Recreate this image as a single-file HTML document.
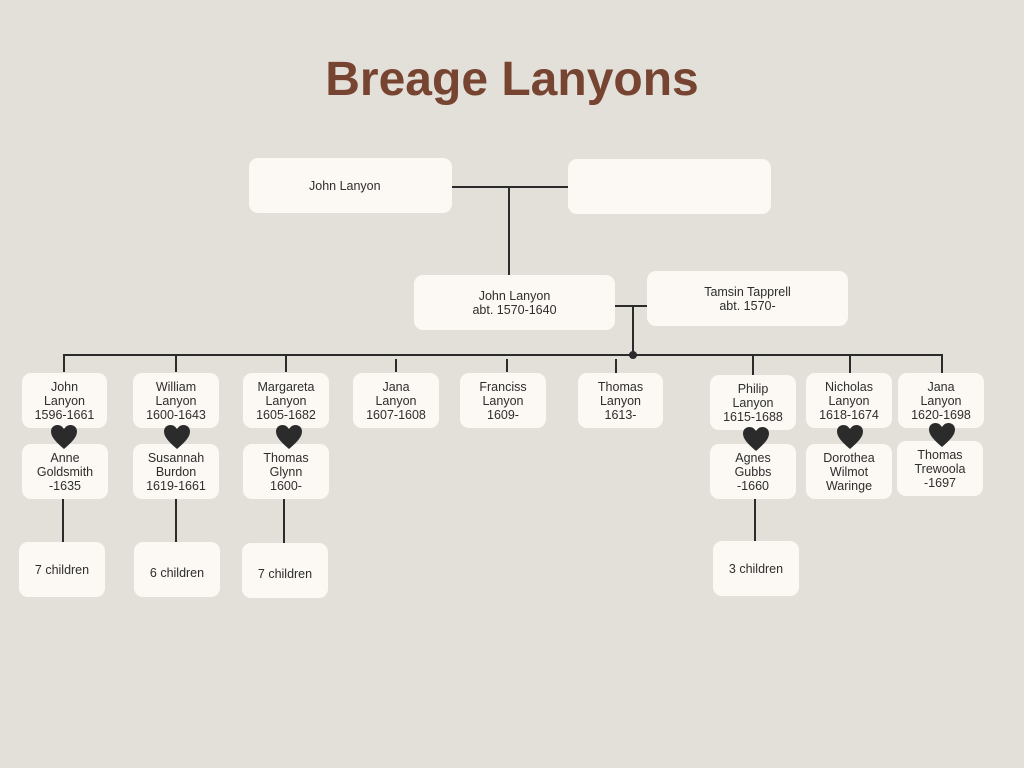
<!DOCTYPE html>
<html><head><meta charset="utf-8"><style>
body{margin:0;width:1024px;height:768px;background:#e3dfd9;position:relative;overflow:hidden;font-family:"Liberation Sans",sans-serif;}
.t{position:absolute;left:0;width:1024px;top:52px;text-align:center;color:#7a4a30;font-size:48px;font-weight:bold;letter-spacing:0px;}
.b{position:absolute;background:#fcf8f3;border-radius:9px;display:flex;align-items:center;justify-content:center;text-align:center;color:#2e2e2e;font-size:12.5px;line-height:14px;}
.l{position:absolute;background:#2b2b2b;}
.h{position:absolute;width:28px;height:26px;}
</style></head><body>
<div class="t" style="color:#764430">Breage Lanyons</div>

<div class="l" style="left:452px;top:186px;width:116px;height:2px"></div>
<div class="l" style="left:508px;top:187px;width:2px;height:88px"></div>
<div class="b" style="left:249px;top:158px;width:203px;height:55px;justify-content:flex-start;padding-left:60px;box-sizing:border-box">John Lanyon</div>
<div class="b" style="left:568px;top:159px;width:203px;height:55px"></div>

<div class="l" style="left:615px;top:305px;width:32px;height:2px"></div>
<div class="l" style="left:632px;top:306px;width:2px;height:49px"></div>
<div class="l" style="left:629px;top:351px;width:8px;height:8px;border-radius:50%"></div>
<div class="b" style="left:414px;top:275px;width:201px;height:55px">John Lanyon<br>abt. 1570-1640</div>
<div class="b" style="left:647px;top:271px;width:201px;height:55px">Tamsin Tapprell<br>abt. 1570-</div>

<div class="l" style="left:63px;top:354px;width:880px;height:2px"></div>
<div class="l" style="left:63px;top:355px;width:2px;height:17px"></div>
<div class="l" style="left:175px;top:355px;width:2px;height:17px"></div>
<div class="l" style="left:285px;top:355px;width:2px;height:17px"></div>
<div class="l" style="left:395px;top:359px;width:2px;height:13px"></div>
<div class="l" style="left:506px;top:359px;width:2px;height:13px"></div>
<div class="l" style="left:615px;top:359px;width:2px;height:14px"></div>
<div class="l" style="left:752px;top:355px;width:2px;height:20px"></div>
<div class="l" style="left:849px;top:355px;width:2px;height:18px"></div>
<div class="l" style="left:941px;top:355px;width:2px;height:18px"></div>

<div class="b" style="left:22px;top:373px;width:85px;height:55px">John<br>Lanyon<br>1596-1661</div>
<div class="b" style="left:133px;top:373px;width:86px;height:55px">William<br>Lanyon<br>1600-1643</div>
<div class="b" style="left:243px;top:373px;width:86px;height:55px">Margareta<br>Lanyon<br>1605-1682</div>
<div class="b" style="left:353px;top:373px;width:86px;height:55px">Jana<br>Lanyon<br>1607-1608</div>
<div class="b" style="left:460px;top:373px;width:86px;height:55px">Franciss<br>Lanyon<br>1609-</div>
<div class="b" style="left:578px;top:373px;width:85px;height:55px">Thomas<br>Lanyon<br>1613-</div>
<div class="b" style="left:710px;top:375px;width:86px;height:55px">Philip<br>Lanyon<br>1615-1688</div>
<div class="b" style="left:806px;top:373px;width:86px;height:55px">Nicholas<br>Lanyon<br>1618-1674</div>
<div class="b" style="left:898px;top:373px;width:86px;height:55px">Jana<br>Lanyon<br>1620-1698</div>

<div class="b" style="left:22px;top:444px;width:86px;height:55px">Anne<br>Goldsmith<br>-1635</div>
<div class="b" style="left:133px;top:444px;width:86px;height:55px">Susannah<br>Burdon<br>1619-1661</div>
<div class="b" style="left:243px;top:444px;width:86px;height:55px">Thomas<br>Glynn<br>1600-</div>
<div class="b" style="left:710px;top:444px;width:86px;height:55px">Agnes<br>Gubbs<br>-1660</div>
<div class="b" style="left:806px;top:444px;width:86px;height:55px">Dorothea<br>Wilmot<br>Waringe</div>
<div class="b" style="left:897px;top:441px;width:86px;height:55px">Thomas<br>Trewoola<br>-1697</div>

<svg width="0" height="0" style="position:absolute"><defs><path id="hp" d="M14 25 C6 18 1 13 1 7.5 C1 3.5 4 1 7.5 1 C10.5 1 12.5 2.8 14 5 C15.5 2.8 17.5 1 20.5 1 C24 1 27 3.5 27 7.5 C27 13 22 18 14 25Z" fill="#2b2b2b"/></defs></svg>
<svg class="h" style="left:50px;top:424px"><use href="#hp"/></svg>
<svg class="h" style="left:163px;top:424px"><use href="#hp"/></svg>
<svg class="h" style="left:275px;top:424px"><use href="#hp"/></svg>
<svg class="h" style="left:742px;top:426px"><use href="#hp"/></svg>
<svg class="h" style="left:836px;top:424px"><use href="#hp"/></svg>
<svg class="h" style="left:928px;top:422px"><use href="#hp"/></svg>

<div class="l" style="left:62px;top:499px;width:2px;height:43px"></div>
<div class="l" style="left:175px;top:499px;width:2px;height:43px"></div>
<div class="l" style="left:283px;top:499px;width:2px;height:44px"></div>
<div class="l" style="left:754px;top:499px;width:2px;height:42px"></div>

<div class="b" style="left:19px;top:542px;width:86px;height:55px">7 children</div>
<div class="b" style="left:134px;top:542px;width:86px;height:55px;padding-top:6px;box-sizing:border-box">6 children</div>
<div class="b" style="left:242px;top:543px;width:86px;height:55px;padding-top:6px;box-sizing:border-box">7 children</div>
<div class="b" style="left:713px;top:541px;width:86px;height:55px">3 children</div>
</body></html>
